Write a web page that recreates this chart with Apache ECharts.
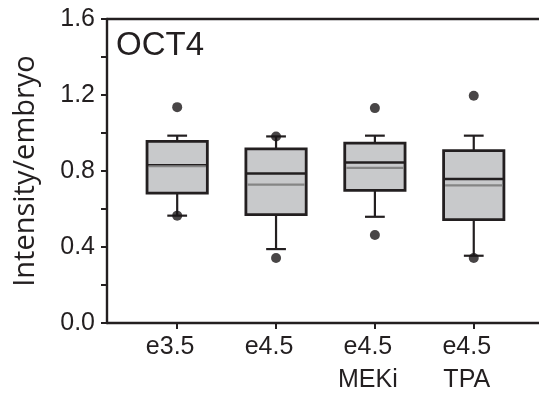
<!DOCTYPE html>
<html>
<head>
<meta charset="utf-8">
<script src="https://cdn.jsdelivr.net/npm/echarts@6/dist/echarts.min.js"></script>
<style>html,body{margin:0;padding:0;background:#fff;}#c{width:539px;height:400px;}</style>
</head>
<body>
<div id="c"></div>
<script>
var categories = ['e3.5', 'e4.5', 'e4.5\nMEKi', 'e4.5\nTPA'];
var positions = [1, 2, 3, 4];
var whiskerLow = [0.565, 0.389, 0.559, 0.354];
var q1 = [0.684, 0.570, 0.698, 0.544];
var median = [0.830, 0.787, 0.845, 0.758];
var q3 = [0.956, 0.916, 0.947, 0.907];
var whiskerHigh = [0.986, 0.982, 0.986, 0.986];
var mean = [0.825, 0.728, 0.816, 0.724];
var outlierHigh = [1.136, 0.982, 1.131, 1.196];
var outlierLow = [0.565, 0.342, 0.463, 0.342];
var yTicks = [0, 0.4, 0.8, 1.2, 1.6];

var boxData = positions.map(function (p, i) {
  return [p, whiskerLow[i], q1[i], median[i], q3[i], whiskerHigh[i], mean[i]];
});
var outlierData = [];
positions.forEach(function (p, i) {
  outlierData.push([p, outlierHigh[i]]);
  outlierData.push([p, outlierLow[i]]);
});

var chart = echarts.init(document.getElementById('c'));
var axisColor = '#231f20';
chart.setOption({
  animation: false,
  title: {
    text: 'OCT4', left: 111, top: 24,
    textStyle: { fontFamily: 'Liberation Sans', fontSize: 33, fontWeight: 'normal', color: '#231f20' }
  },
  grid: { left: 107, top: 19, right: 0, bottom: 77 },
  xAxis: [{
    type: 'value', min: 0.29, max: 4.66, position: 'bottom',
    axisLine: { show: true, lineStyle: { color: axisColor, width: 2.4 } },
    axisTick: { show: true, customValues: positions, length: 6, inside: false, lineStyle: { color: axisColor, width: 2 } },
    axisLabel: {
      customValues: positions,
      formatter: function (v) { return categories[Math.round(v) - 1]; },
      fontFamily: 'Liberation Sans', fontSize: 25, color: '#231f20', lineHeight: 33, margin: 8,
      padding: [0, 14, 0, 0]
    },
    splitLine: { show: false }
  }, {
    type: 'value', min: 0.29, max: 4.66, position: 'top',
    axisLine: { show: true, lineStyle: { color: axisColor, width: 2.4 } },
    axisTick: { show: false }, axisLabel: { show: false }, splitLine: { show: false }
  }],
  yAxis: {
    type: 'value', min: 0, max: 1.6, interval: 0.2,
    name: 'Intensity/embryo', nameLocation: 'middle', nameGap: 67, nameRotate: 90,
    nameTextStyle: { fontFamily: 'Open Sans', fontSize: 29, color: '#231f20' },
    axisLine: { show: true, lineStyle: { color: axisColor, width: 2.4 } },
    axisTick: { show: true, length: 6, lineStyle: { color: axisColor, width: 2 } },
    axisLabel: {
      formatter: function (v) {
        for (var k = 0; k < yTicks.length; k++) { if (Math.abs(yTicks[k] - v) < 1e-6) return v.toFixed(1); }
        return '';
      },
      fontFamily: 'Liberation Sans', fontSize: 25, color: '#231f20', margin: 12
    },
    splitLine: { show: false }
  },
  series: [{
    type: 'custom',
    data: boxData,
    encode: { x: 0, y: [1, 2, 3, 4, 5] },
    renderItem: function (params, api) {
      var x = api.value(0);
      var halfW = api.size([0.305, 0])[0];
      var capW = api.size([0.1, 0])[0];
      var pLow = api.coord([x, api.value(1)]);
      var pQ1 = api.coord([x, api.value(2)]);
      var pMed = api.coord([x, api.value(3)]);
      var pQ3 = api.coord([x, api.value(4)]);
      var pHigh = api.coord([x, api.value(5)]);
      var pMean = api.coord([x, api.value(6)]);
      var cx = pQ1[0];
      var lineStyle = { stroke: '#231f20', lineWidth: 2.2 };
      return {
        type: 'group',
        children: [
          { type: 'line', shape: { x1: cx, y1: pQ3[1], x2: cx, y2: pHigh[1] }, style: lineStyle },
          { type: 'line', shape: { x1: cx - capW, y1: pHigh[1], x2: cx + capW, y2: pHigh[1] }, style: lineStyle },
          { type: 'line', shape: { x1: cx, y1: pQ1[1], x2: cx, y2: pLow[1] }, style: lineStyle },
          { type: 'line', shape: { x1: cx - capW, y1: pLow[1], x2: cx + capW, y2: pLow[1] }, style: lineStyle },
          { type: 'rect', shape: { x: cx - halfW, y: pQ3[1], width: halfW * 2, height: pQ1[1] - pQ3[1] },
            style: { fill: '#c8c9cb', stroke: '#231f20', lineWidth: 2.8 } },
          { type: 'line', shape: { x1: cx - halfW, y1: pMed[1], x2: cx + halfW, y2: pMed[1] },
            style: { stroke: '#231f20', lineWidth: 2.4 } },
          { type: 'line', shape: { x1: cx - halfW + 1.5, y1: pMean[1], x2: cx + halfW - 1.5, y2: pMean[1] },
            style: { stroke: '#858585', lineWidth: 2.2 } }
        ]
      };
    }
  }, {
    type: 'scatter',
    data: outlierData,
    symbol: 'circle', symbolSize: 10,
    itemStyle: { color: '#1a1718' },
    z: 5
  }]
});
</script>
</body>
</html>
